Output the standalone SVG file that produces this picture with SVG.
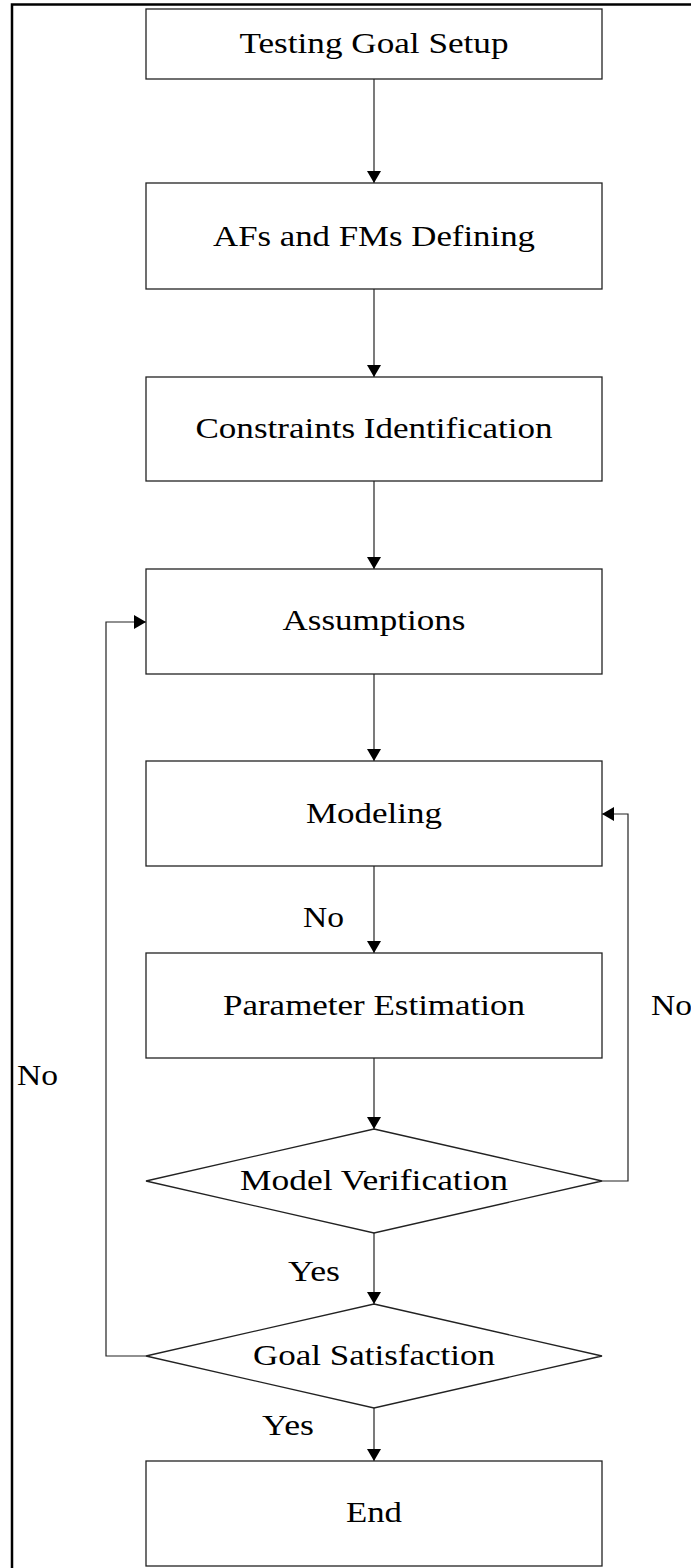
<svg xmlns="http://www.w3.org/2000/svg" width="691" height="1568" viewBox="0 0 691 1568">
<defs>
<style>
.box{fill:#fff;stroke:#222;stroke-width:1.3}
.ln{fill:none;stroke:#222;stroke-width:1.2}
.t{font-family:"Liberation Serif","Times New Roman",serif;font-size:30px;fill:#000;text-anchor:middle}
.lb{font-family:"Liberation Serif","Times New Roman",serif;font-size:30px;fill:#000}
</style>
<marker id="ah" viewBox="0 0 12 14" refX="12" refY="7" markerWidth="12" markerHeight="14" markerUnits="userSpaceOnUse" orient="auto">
<path d="M0,0 L12,7 L0,14 z" fill="#000"/>
</marker>
</defs>
<rect width="691" height="1568" fill="#fff"/>
<path d="M12,1568 L12,4.5 L691,4.5" fill="none" stroke="#000" stroke-width="2.5"/>
<g id="connectors">
<path class="ln" d="M374,79 L374,183" marker-end="url(#ah)"/>
<path class="ln" d="M374,289 L374,377" marker-end="url(#ah)"/>
<path class="ln" d="M374,481 L374,569" marker-end="url(#ah)"/>
<path class="ln" d="M374,674 L374,761" marker-end="url(#ah)"/>
<path class="ln" d="M374,866 L374,953" marker-end="url(#ah)"/>
<path class="ln" d="M374,1058 L374,1129" marker-end="url(#ah)"/>
<path class="ln" d="M374,1233 L374,1304" marker-end="url(#ah)"/>
<path class="ln" d="M374,1408 L374,1461" marker-end="url(#ah)"/>
<path class="ln" d="M602,1181 L628,1181 L628,814 L602,814" marker-end="url(#ah)"/>
<path class="ln" d="M146,1356 L106,1356 L106,622 L146,622" marker-end="url(#ah)"/>
<text class="lb" x="303" y="927" textLength="41" lengthAdjust="spacingAndGlyphs">No</text>
<text class="lb" x="651" y="1015" textLength="41" lengthAdjust="spacingAndGlyphs">No</text>
<text class="lb" x="17" y="1085" textLength="41" lengthAdjust="spacingAndGlyphs">No</text>
<text class="lb" x="288" y="1281" textLength="52" lengthAdjust="spacingAndGlyphs">Yes</text>
<text class="lb" x="262" y="1435" textLength="52" lengthAdjust="spacingAndGlyphs">Yes</text>
</g>
<g id="n1"><rect class="box" x="146" y="9" width="456" height="70"/><text class="t" x="374" y="53" textLength="269" lengthAdjust="spacingAndGlyphs">Testing Goal Setup</text></g>
<g id="n2"><rect class="box" x="146" y="183" width="456" height="106"/><text class="t" x="374" y="246" textLength="322" lengthAdjust="spacingAndGlyphs">AFs and FMs Defining</text></g>
<g id="n3"><rect class="box" x="146" y="377" width="456" height="104"/><text class="t" x="374" y="438" textLength="357" lengthAdjust="spacingAndGlyphs">Constraints Identification</text></g>
<g id="n4"><rect class="box" x="146" y="569" width="456" height="105"/><text class="t" x="374" y="630" textLength="183" lengthAdjust="spacingAndGlyphs">Assumptions</text></g>
<g id="n5"><rect class="box" x="146" y="761" width="456" height="105"/><text class="t" x="374" y="823" textLength="136" lengthAdjust="spacingAndGlyphs">Modeling</text></g>
<g id="n6"><rect class="box" x="146" y="953" width="456" height="105"/><text class="t" x="374" y="1015" textLength="302" lengthAdjust="spacingAndGlyphs">Parameter Estimation</text></g>
<g id="n7"><polygon class="box" points="374,1129 602,1181 374,1233 146,1181"/><text class="t" x="374" y="1190" textLength="268" lengthAdjust="spacingAndGlyphs">Model Verification</text></g>
<g id="n8"><polygon class="box" points="374,1304 602,1356 374,1408 146,1356"/><text class="t" x="374" y="1365" textLength="242" lengthAdjust="spacingAndGlyphs">Goal Satisfaction</text></g>
<g id="n9"><rect class="box" x="146" y="1461" width="456" height="105"/><text class="t" x="374" y="1522" textLength="56" lengthAdjust="spacingAndGlyphs">End</text></g>
</svg>
